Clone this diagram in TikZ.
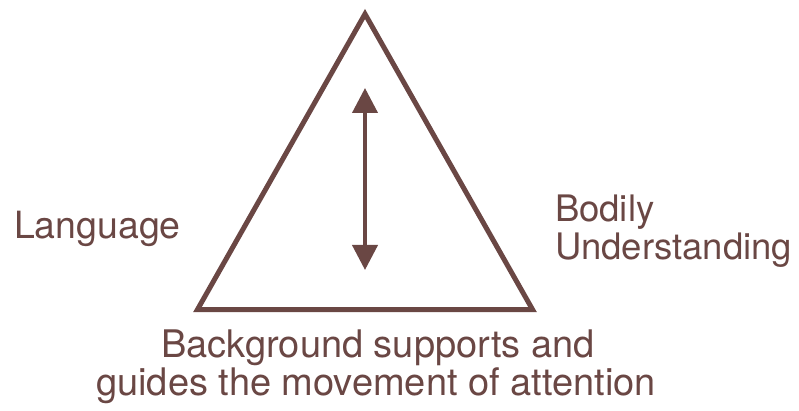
\documentclass[tikz,border=0pt]{standalone}
\usepackage{fontspec}
\setmainfont{TeX Gyre Heros}
\usetikzlibrary{arrows.meta}
\definecolor{brn}{HTML}{6A4744}
\tikzset{
  lbl/.style={text=brn, font=\fontsize{36.5}{38}\selectfont, inner sep=0pt, outer sep=0pt},
  lblbig/.style={lbl, font=\fontsize{38}{38}\selectfont},
  tri/.style={draw=brn, line width=5pt, miter limit=10, line join=miter},
  dblarrow/.style={draw=brn, line width=4pt, {Triangle[length=25pt,width=25pt]}-{Triangle[length=25pt,width=25pt]}}
}
\begin{document}
\begin{tikzpicture}[x=1pt,y=-1pt]
\useasboundingbox (0,0) rectangle (799,411);
\coordinate (top) at (365,14);
\coordinate (bl) at (197.5,309.5);
\coordinate (br) at (532.5,309.5);
\draw[tri] (top) -- (bl) -- (br) -- cycle;
\coordinate (up) at (365,88);
\coordinate (down) at (365,270);
\draw[dblarrow] (up) -- (down);
\node[lbl, font=\fontsize{37.5}{38}\selectfont, anchor=base west] (lang) at (14,239) {Language};
\node[lbl, anchor=base west] (bod) at (555,222) {Bodily};
\node[lbl, anchor=base west] (und) at (555,260) {Understanding};
\node[lblbig, anchor=base] (bg1) at (378,357) {Background supports and};
\node[lblbig, anchor=base] (bg2) at (376,395) {guides the movement of attention};
\end{tikzpicture}
\end{document}
